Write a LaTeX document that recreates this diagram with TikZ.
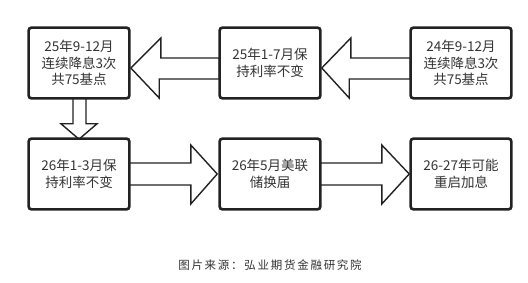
\documentclass[tikz,border=0pt]{standalone}
\usepackage{fontspec}
\newfontfamily\cjk{Noto Sans CJK SC}
\newfontfamily\cjkcap[LetterSpace=15]{Noto Sans CJK SC}
\usetikzlibrary{calc}
\definecolor{ink}{HTML}{222222}
\definecolor{txt}{HTML}{333333}
\tikzset{
  box/.style={draw=ink, line width=1.6pt, rounded corners=3pt, minimum width=100pt, minimum height=70pt,
    align=center, text=txt, font=\cjk\fontsize{13.5}{16.5}\selectfont, inner sep=0pt},
  blockarrow/.style={draw=ink, line width=1.4pt, fill=white, line join=miter}
}
\begin{document}
\begin{tikzpicture}[x=1pt,y=-1pt]
\useasboundingbox (0,0) rectangle (528,283);
\node[box] (b1) at (79,63) {25年9-12月\\连续降息3次\\共75基点};
\node[box] (b2) at (270,63) {25年1-7月保\\持利率不变};
\node[box] (b3) at (461,63) {24年9-12月\\连续降息3次\\共75基点};
\node[box] (b4) at (79,174) {26年1-3月保\\持利率不变};
\node[box] (b5) at (270,174) {26年5月美联\\储换届};
\node[box] (b6) at (461,174) {26-27年可能\\重启加息};
% arrow b2 -> b1
\draw[blockarrow] ($(b1.east)+(1,5)$) -- ++(30,-30) -- ++(0,20) -- ($(b2.west)+(0,-5)$) -- ($(b2.west)+(0,16)$) -- ++(-60,0) -- ++(0,19) -- cycle;
% arrow b3 -> b2
\draw[blockarrow] ($(b2.east)+(1,5)$) -- ++(29,-30) -- ++(0,20) -- ($(b3.west)+(0,-5)$) -- ($(b3.west)+(0,16)$) -- ++(-61,0) -- ++(0,19) -- cycle;
% arrow b1 -> b4
\draw[blockarrow] ($(b1.south)+(-6,0)$) -- ++(0,25) -- ++(-12,0) -- ($(b4.north)+(0,1)$) -- ($(b1.south)+(18,25)$) -- ++(-11,0) -- ++(0,-25);
% arrow b4 -> b5
\draw[blockarrow] ($(b4.east)+(0,-11)$) -- ++(61,0) -- ++(0,-18) -- ($(b5.west)+(-2,0)$) -- ($(b4.east)+(61,30)$) -- ++(0,-19) -- ++(-61,0);
% arrow b5 -> b6
\draw[blockarrow] ($(b5.east)+(0,-11)$) -- ++(61,0) -- ++(0,-18) -- ($(b6.west)+(-1,0)$) -- ($(b5.east)+(61,30)$) -- ++(0,-19) -- ++(-61,0);
% redraw box outlines over the arrow ends
\foreach \n in {b1,b2,b3,b4,b5,b6}{\draw[ink, line width=1.6pt, rounded corners=3pt] (\n.north west) rectangle (\n.south east);}
\node[text=txt, font=\cjkcap\fontsize{11.5}{14}\selectfont] (cap) at (270,265) {图片来源：弘业期货金融研究院};
\end{tikzpicture}
\end{document}
